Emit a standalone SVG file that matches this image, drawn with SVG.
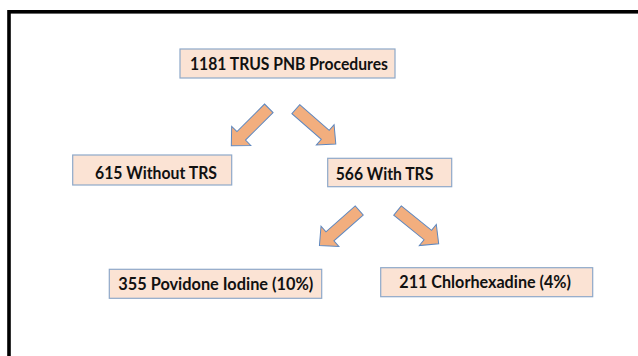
<svg xmlns="http://www.w3.org/2000/svg" width="638" height="356" viewBox="0 0 638 356">
  <style>
    .box { fill: #FBE3D4; stroke: #8EA8C9; stroke-width: 1.2; }
    .lbl { font-family: Lato, "Liberation Sans", sans-serif; font-weight: bold; font-size: 16.5px; fill: #111111; }
    .arrow { fill: #F2AE7E; stroke: #5D87BF; stroke-width: 1; stroke-linejoin: miter; }
  </style>
  <defs>
    <polygon id="blk" points="0,-6 39,-6 39,-13.5 53,0 39,13.5 39,6 0,6"/>
  </defs>
  <rect x="0" y="0" width="638" height="356" fill="#FFFFFF"/>
  <rect x="9" y="11.8" width="700" height="400" fill="none" stroke="#000000" stroke-width="3.6"/>

  <g id="connectors">
    <use href="#blk" class="arrow" transform="translate(268.8,108.3) rotate(135)"/>
    <use href="#blk" class="arrow" transform="translate(295.8,109.2) rotate(41)"/>
    <use href="#blk" class="arrow" transform="translate(359.2,210.5) rotate(138.6)"/>
    <use href="#blk" class="arrow" transform="translate(397.5,210.5) rotate(39)"/>
  </g>

  <g id="node-total">
    <rect class="box" x="180" y="49" width="215" height="29"/>
    <text class="lbl" x="190" y="69.5" textLength="198" lengthAdjust="spacingAndGlyphs">1181 TRUS PNB Procedures</text>
  </g>
  <g id="node-without">
    <rect class="box" x="72.7" y="155" width="159" height="30"/>
    <text class="lbl" x="95" y="178.5" textLength="122" lengthAdjust="spacingAndGlyphs">615 Without TRS</text>
  </g>
  <g id="node-with">
    <rect class="box" x="327.7" y="158.3" width="124" height="28.4"/>
    <text class="lbl" x="335.7" y="179.5" textLength="97.6" lengthAdjust="spacingAndGlyphs">566 With TRS</text>
  </g>
  <g id="node-povidone">
    <rect class="box" x="109.3" y="269.3" width="212.4" height="29"/>
    <text class="lbl" x="118.3" y="290.3" textLength="195" lengthAdjust="spacingAndGlyphs">355 Povidone Iodine (10%)</text>
  </g>
  <g id="node-chlorhexadine">
    <rect class="box" x="380.7" y="267.7" width="212" height="29"/>
    <text class="lbl" x="399.3" y="288.3" textLength="171.7" lengthAdjust="spacingAndGlyphs">211 Chlorhexadine (4%)</text>
  </g>
</svg>
